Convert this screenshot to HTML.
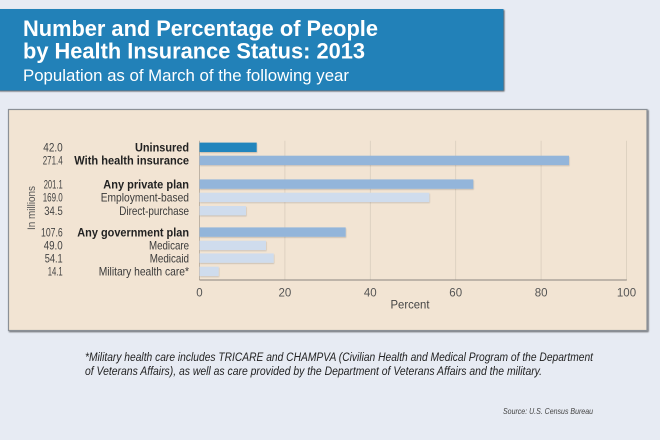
<!DOCTYPE html>
<html>
<head>
<meta charset="utf-8">
<style>
html,body{margin:0;padding:0;background:#e7ebf3;}
svg{display:block;}
text{font-family:"Liberation Sans","DejaVu Sans",sans-serif;}
</style>
</head>
<body>
<svg width="660" height="440" viewBox="0 0 660 440" xmlns="http://www.w3.org/2000/svg">
  <defs>
    <filter id="sh" x="-5%" y="-5%" width="110%" height="110%">
      <feGaussianBlur in="SourceAlpha" stdDeviation="0.8"/>
      <feOffset dx="1" dy="1.2" result="o"/>
      <feComponentTransfer><feFuncA type="linear" slope="0.6"/></feComponentTransfer>
      <feMerge><feMergeNode/><feMergeNode in="SourceGraphic"/></feMerge>
    </filter>
    <filter id="bs" x="-5%" y="-30%" width="110%" height="160%">
      <feGaussianBlur in="SourceAlpha" stdDeviation="0.6"/>
      <feOffset dx="0.6" dy="0.8" result="o"/>
      <feComponentTransfer><feFuncA type="linear" slope="0.18"/></feComponentTransfer>
      <feMerge><feMergeNode/><feMergeNode in="SourceGraphic"/></feMerge>
    </filter>
  </defs>
  <rect width="660" height="440" fill="#e7ebf3"/>

  <!-- Title box -->
  <rect x="-2" y="9" width="505.5" height="81.5" fill="#2181b8" filter="url(#sh)"/>
  <text x="23" y="36" font-size="22" font-weight="bold" fill="#ffffff" textLength="355" lengthAdjust="spacingAndGlyphs">Number and Percentage of People</text>
  <text x="23" y="58.5" font-size="22" font-weight="bold" fill="#ffffff" textLength="342" lengthAdjust="spacingAndGlyphs">by Health Insurance Status: 2013</text>
  <text x="23" y="81" font-size="16.5" fill="#ffffff" textLength="326" lengthAdjust="spacingAndGlyphs">Population as of March of the following year</text>

  <!-- Panel -->
  <rect x="8.5" y="109.5" width="638.5" height="221" fill="#f2e4d3" stroke="#8b9096" stroke-width="1.2" filter="url(#sh)"/>

  <!-- gridlines -->
  <g stroke="#d9cdbd" stroke-width="0.8">
    <line x1="284.9" y1="140.7" x2="284.9" y2="280"/>
    <line x1="370.3" y1="140.7" x2="370.3" y2="280"/>
    <line x1="455.7" y1="140.7" x2="455.7" y2="280"/>
    <line x1="541.1" y1="140.7" x2="541.1" y2="280"/>
    <line x1="626.5" y1="140.7" x2="626.5" y2="280"/>
  </g>
  <line x1="199.5" y1="140.7" x2="199.5" y2="280" stroke="#b8ada0" stroke-width="0.9"/>
  <line x1="199.5" y1="280" x2="626.8" y2="280" stroke="#8a857f" stroke-width="1.1"/>

  <!-- bars -->
  <g filter="url(#bs)">
    <rect x="199.5" y="142.6" width="57.2" height="9.4" fill="#2385bd"/>
    <rect x="199.5" y="155.7" width="369.5" height="9.4" fill="#93b5da"/>
    <rect x="199.5" y="179.4" width="273.8" height="9.4" fill="#93b5da"/>
    <rect x="199.5" y="192.7" width="229.8" height="9.4" fill="#cfdced"/>
    <rect x="199.5" y="206" width="46.5" height="9.4" fill="#cfdced"/>
    <rect x="199.5" y="227.4" width="146.2" height="9.4" fill="#93b5da"/>
    <rect x="199.5" y="240.7" width="66.5" height="9.4" fill="#cfdced"/>
    <rect x="199.5" y="253.4" width="74.2" height="9.4" fill="#cfdced"/>
    <rect x="199.5" y="266.7" width="19.2" height="9.4" fill="#cfdced"/>
  </g>

  <!-- category labels -->
  <g font-size="12" fill="#222" text-anchor="end">
    <text x="189" y="151.6" font-weight="bold" textLength="54" lengthAdjust="spacingAndGlyphs">Uninsured</text>
    <text x="189" y="164.7" font-weight="bold" textLength="114.7" lengthAdjust="spacingAndGlyphs">With health insurance</text>
    <text x="189" y="188.5" font-weight="bold" textLength="85.7" lengthAdjust="spacingAndGlyphs">Any private plan</text>
    <text x="189" y="201.7" fill="#3a3a3a" textLength="88.3" lengthAdjust="spacingAndGlyphs">Employment-based</text>
    <text x="189" y="215" fill="#3a3a3a" textLength="69.7" lengthAdjust="spacingAndGlyphs">Direct-purchase</text>
    <text x="189" y="236.5" font-weight="bold" textLength="111.7" lengthAdjust="spacingAndGlyphs">Any government plan</text>
    <text x="189" y="249.7" fill="#3a3a3a" textLength="40" lengthAdjust="spacingAndGlyphs">Medicare</text>
    <text x="189" y="262.5" fill="#3a3a3a" textLength="39.3" lengthAdjust="spacingAndGlyphs">Medicaid</text>
    <text x="189" y="275.7" fill="#3a3a3a" textLength="90.3" lengthAdjust="spacingAndGlyphs">Military health care*</text>
  </g>

  <!-- numbers -->
  <g font-size="12" fill="#444" text-anchor="end">
    <text x="62.7" y="151.6" textLength="19.4" lengthAdjust="spacingAndGlyphs">42.0</text>
    <text x="62.7" y="164.7" textLength="20" lengthAdjust="spacingAndGlyphs">271.4</text>
    <text x="62.7" y="188.5" textLength="19" lengthAdjust="spacingAndGlyphs">201.1</text>
    <text x="62.7" y="201.7" textLength="20" lengthAdjust="spacingAndGlyphs">169.0</text>
    <text x="62.7" y="215" textLength="18.4" lengthAdjust="spacingAndGlyphs">34.5</text>
    <text x="62.7" y="236.5" textLength="21.7" lengthAdjust="spacingAndGlyphs">107.6</text>
    <text x="62.7" y="249.7" textLength="19" lengthAdjust="spacingAndGlyphs">49.0</text>
    <text x="62.7" y="262.5" textLength="18" lengthAdjust="spacingAndGlyphs">54.1</text>
    <text x="62.7" y="275.7" textLength="15" lengthAdjust="spacingAndGlyphs">14.1</text>
  </g>

  <!-- In millions -->
  <text transform="translate(35,208) rotate(-90)" font-size="11" fill="#555" text-anchor="middle" textLength="44" lengthAdjust="spacingAndGlyphs">In millions</text>

  <!-- tick labels -->
  <g font-size="11.5" fill="#555" text-anchor="middle">
    <text x="199.5" y="296.3">0</text>
    <text x="284.9" y="296.3">20</text>
    <text x="370.3" y="296.3">40</text>
    <text x="455.7" y="296.3">60</text>
    <text x="541.1" y="296.3">80</text>
    <text x="626.5" y="296.3">100</text>
  </g>
  <text x="410" y="308.3" font-size="11.5" fill="#444" text-anchor="middle" textLength="39" lengthAdjust="spacingAndGlyphs">Percent</text>

  <!-- footnote -->
  <g font-size="11.5" font-style="italic" fill="#222">
    <text x="85" y="361" textLength="508" lengthAdjust="spacingAndGlyphs">*Military health care includes TRICARE and CHAMPVA (Civilian Health and Medical Program of the Department</text>
    <text x="85" y="375" textLength="457" lengthAdjust="spacingAndGlyphs">of Veterans Affairs), as well as care provided by the Department of Veterans Affairs and the military.</text>
  </g>
  <text x="593" y="414" font-size="8.5" font-style="italic" fill="#444" text-anchor="end" textLength="90" lengthAdjust="spacingAndGlyphs">Source: U.S. Census Bureau</text>
</svg>
</body>
</html>
